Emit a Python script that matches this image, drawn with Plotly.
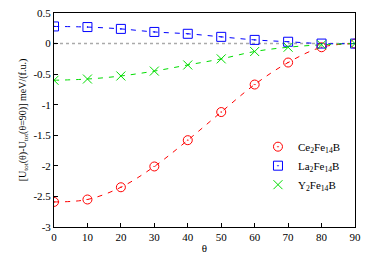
import plotly.graph_objects as go

theta = [0, 10, 20, 30, 40, 50, 60, 70, 80, 90]
ce = [-2.59, -2.55, -2.35, -2.01, -1.58, -1.12, -0.67, -0.31, -0.06, 0.0]
la = [0.28, 0.27, 0.24, 0.19, 0.16, 0.11, 0.06, 0.03, 0.0, 0.0]
yy = [-0.60, -0.58, -0.53, -0.45, -0.35, -0.25, -0.13, -0.06, -0.02, 0.0]
names = ["Ce<sub>2</sub>Fe<sub>14</sub>B", "La<sub>2</sub>Fe<sub>14</sub>B", "Y<sub>2</sub>Fe<sub>14</sub>B"]
colors = ["#ff0000", "#0000ff", "#00dd00"]
symbols = ["circle-open-dot", "square-open-dot", "x-thin-open"]
FONT = "Liberation Serif"

fig = go.Figure()
fig.add_trace(go.Scatter(x=[0, 90], y=[0, 0], mode="lines",
                         line=dict(color="#aaaaaa", dash="dot", width=1.5),
                         showlegend=False, hoverinfo="skip"))
for vals, c in zip([ce, la, yy], colors):
    fig.add_trace(go.Scatter(
        x=theta, y=vals, mode="lines", showlegend=False, hoverinfo="skip",
        line=dict(color=c, dash="5px,6px", width=1, shape="spline"),
    ))
for vals, n, c, s in zip([ce, la, yy], names, colors, symbols):
    fig.add_trace(go.Scatter(
        x=theta, y=vals, name=n, mode="markers",
        marker=dict(symbol=s, size=9, color=c, line=dict(color=c, width=1)),
    ))

axis_common = dict(showline=True, linecolor="black", linewidth=1, mirror=True,
                   ticks="inside", ticklen=4, tickcolor="black", showgrid=False,
                   zeroline=False, automargin=False,
                   tickfont=dict(family=FONT, size=11, color="black"))
fig.update_layout(
    width=375, height=263,
    margin=dict(l=54, r=20, t=13, b=36),
    plot_bgcolor="white", paper_bgcolor="white",
    font=dict(family=FONT, size=11, color="black"),
    xaxis=dict(range=[0, 90], tickvals=list(range(0, 91, 10)),
               title=dict(text="θ", standoff=2, font=dict(family=FONT, size=11)), **axis_common),
    yaxis=dict(range=[-3, 0.5], tickvals=[-3, -2.5, -2, -1.5, -1, -0.5, 0, 0.5],
               ticktext=["-3", "-2.5", "-2", "-1.5", "-1", "-0.5", "0", "0.5"],
               title=dict(text="[U<sub>tot</sub>(θ)-U<sub>tot</sub>(θ=90)] meV/(f.u.)",
                          standoff=4, font=dict(family=FONT, size=10)), **axis_common),
    legend=dict(x=0.97, y=0.13, xanchor="right", yanchor="bottom",
                bgcolor="rgba(0,0,0,0)", font=dict(family=FONT, size=11),
                tracegroupgap=0, itemwidth=30),
)
fig.write_html("out.html", config={"displayModeBar": False},
               post_script="document.body.style.margin='0';")
